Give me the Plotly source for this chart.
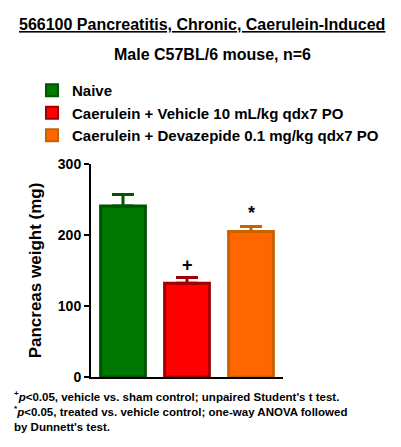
import plotly.graph_objects as go

# group names / values
groups = ["Naive",
          "Caerulein + Vehicle 10 mL/kg qdx7 PO",
          "Caerulein + Devazepide 0.1 mg/kg qdx7 PO"]
weight_mean = [241, 132, 205]
weight_sem = [16, 8, 7]
sig_marks = ["", "+", "*"]

fill_colors = ["#007700", "#FF0000", "#FF6600"]
edge_colors = ["#005500", "#A00000", "#C86400"]

FONT = "Arial, Liberation Sans, sans-serif"

# plot area in pixels (used to place the text outside it)
L, T, R, B = 91, 164, 283, 377
W, H = R - L, B - T


def px(x):
    return (x - L) / W


def py(y):
    return (B - y) / H


fig = go.Figure()
for i, g in enumerate(groups):
    fig.add_trace(go.Bar(
        x=[g], y=[weight_mean[i]], name=g, width=0.7,
        marker=dict(color=fill_colors[i], line=dict(color=edge_colors[i], width=3)),
        error_y=dict(type="data", array=[weight_sem[i]], arrayminus=[0], symmetric=False,
                     color=edge_colors[i], thickness=3, width=11),
    ))
    if sig_marks[i]:
        fig.add_annotation(x=g, y=weight_mean[i] + weight_sem[i], text="<b>%s</b>" % sig_marks[i],
                           showarrow=False, yanchor="bottom", yshift=1,
                           font=dict(size=18, color="black", family=FONT))

fig.update_layout(
    width=401, height=447,
    margin=dict(l=L, r=401 - R, t=T, b=447 - B, autoexpand=False),
    paper_bgcolor="white", plot_bgcolor="white",
    font=dict(family=FONT, color="black", size=14),
    barmode="overlay",
    showlegend=True,
    legend=dict(x=px(32), y=py(74), xanchor="left", yanchor="top",
                font=dict(size=15, family=FONT, weight="bold"),
                itemsizing="constant", bgcolor="rgba(0,0,0,0)"),
    xaxis=dict(showticklabels=False, ticks="", showline=True, linecolor="black", linewidth=2,
               range=[-0.5, 2.5], fixedrange=True),
    yaxis=dict(range=[0, 300], tickvals=[0, 100, 200, 300], ticks="outside", ticklen=5,
               tickwidth=2, tickcolor="black", showline=True, linecolor="black", linewidth=2,
               showgrid=False, zeroline=False,
               tickfont=dict(size=14, family=FONT, weight="bold"),
               title=dict(text="<b>Pancreas weight (mg)</b>", font=dict(size=17, family=FONT), standoff=12)),
)

fig.add_annotation(x=px(202), y=py(24), xref="paper", yref="paper", showarrow=False,
                   text="<b><u>566100 Pancreatitis, Chronic, Caerulein-Induced</u></b>",
                   font=dict(size=16, family=FONT), xanchor="center", yanchor="middle")
fig.add_annotation(x=px(212), y=py(55), xref="paper", yref="paper", showarrow=False,
                   text="<b>Male C57BL/6 mouse, n=6</b>",
                   font=dict(size=16, family=FONT), xanchor="center", yanchor="middle")
fig.add_annotation(x=px(12), y=py(387), xref="paper", yref="paper", showarrow=False,
                   align="left", xanchor="left", yanchor="top",
                   text="<b><sup>+</sup><i>p</i>&lt;0.05, vehicle vs. sham control; unpaired Student's t test.<br>"
                        "<sup>*</sup><i>p</i>&lt;0.05, treated vs. vehicle control; one-way ANOVA followed<br>"
                        "by Dunnett's test.</b>",
                   font=dict(size=11.5, family=FONT))

# page body has a default 8px margin; drop it so the figure sits at the window corner
fig.write_html("out.html", config={"displayModeBar": False},
               post_script="document.body.style.margin='0';")
